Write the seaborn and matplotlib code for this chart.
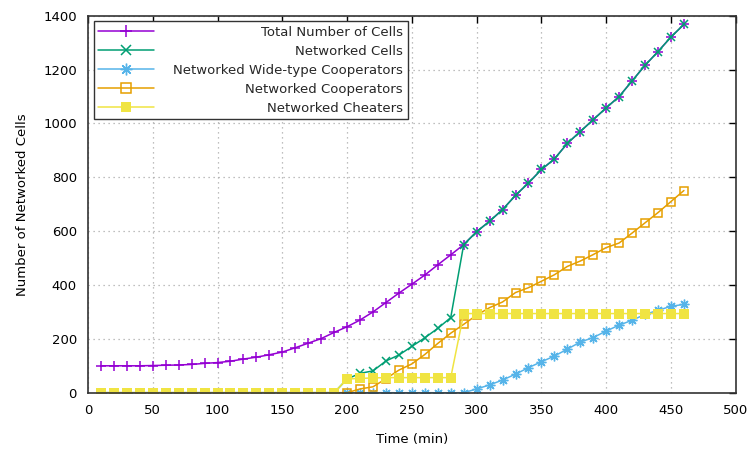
import matplotlib
matplotlib.use("Agg")
import matplotlib.pyplot as plt
import seaborn as sns
import pandas as pd

time_min = [10, 20, 30, 40, 50, 60, 70, 80, 90, 100,
            110, 120, 130, 140, 150, 160, 170, 180, 190, 200,
            210, 220, 230, 240, 250, 260, 270, 280, 290, 300,
            310, 320, 330, 340, 350, 360, 370, 380, 390, 400,
            410, 420, 430, 440, 450, 460]

total_cells = [100, 100, 100, 100, 101, 102, 103, 105, 109, 112,
               117, 125, 132, 141, 151, 167, 184, 201, 224, 245,
               270, 300, 335, 370, 403, 437, 475, 512, 550, 598,
               637, 680, 733, 779, 829, 868, 926, 970, 1014, 1058,
               1100, 1158, 1216, 1267, 1321, 1368]

networked_cells = [0, 0, 0, 0, 0, 0, 0, 0, 0, 0,
                   0, 0, 0, 0, 0, 0, 0, 0, 0, 51,
                   72, 81, 118, 140, 172, 204, 239, 279, 550, 598,
                   637, 680, 733, 779, 829, 868, 926, 970, 1014, 1058,
                   1100, 1158, 1216, 1267, 1321, 1368]

wild_coop = [0, 0, 0, 0, 0, 0, 0, 0, 0, 0,
             0, 0, 0, 0, 0, 0, 0, 0, 0, 0,
             0, 0, 0, 0, 0, 0, 0, 0, 0, 14,
             29, 47, 69, 93, 115, 136, 162, 188, 205, 229,
             251, 269, 291, 306, 321, 328]

cooperators = [0, 0, 0, 0, 0, 0, 0, 0, 0, 0,
               0, 0, 0, 0, 0, 0, 0, 0, 0, 0,
               14, 22, 52, 84, 107, 142, 183, 221, 254, 288,
               316, 337, 372, 390, 414, 438, 469, 489, 513, 539,
               556, 593, 631, 669, 710, 751]

cheaters = [0, 0, 0, 0, 0, 0, 0, 0, 0, 0,
            0, 0, 0, 0, 0, 0, 0, 0, 0, 51,
            53, 55, 56, 56, 56, 56, 56, 56, 294, 294,
            294, 294, 294, 294, 294, 294, 294, 294, 294, 294,
            294, 294, 294, 294, 294, 294]

x_ticks = [0, 50, 100, 150, 200, 250, 300, 350, 400, 450, 500]
y_ticks = [0, 200, 400, 600, 800, 1000, 1200, 1400]

series = [
    ("Total Number of Cells", total_cells, "#9400d3", "+", dict(markersize=7, markeredgewidth=1.1)),
    ("Networked Cells", networked_cells, "#009e73", "x", dict(markersize=5.5, markeredgewidth=1.1)),
    ("Networked Wide-type Cooperators", wild_coop, "#56b4e9", (8, 2, 0), dict(markersize=7, markeredgewidth=1.0)),
    ("Networked Cooperators", cooperators, "#e69f00", "s", dict(markersize=5.5, markeredgewidth=1.1, markerfacecolor="none")),
    ("Networked Cheaters", cheaters, "#f0e442", "s", dict(markersize=6.5, markeredgewidth=0)),
]

sns.set_theme(style="white")
plt.rcParams["font.family"] = ["DejaVu Sans"]
plt.rcParams["font.size"] = 9.5

fig = plt.figure(figsize=(7.5, 4.5), dpi=100)
ax = fig.add_axes([0.1173, 0.1273, 0.8637, 0.8377])

for name, vals, color, marker, kw in series:
    df = pd.DataFrame({"t": time_min, "v": vals})
    sns.lineplot(data=df, x="t", y="v", ax=ax, color=color, marker=marker,
                 linewidth=1.1, label=name, markeredgecolor=color, **kw)

ax.set_xlim(0, 500)
ax.set_ylim(0, 1400)
ax.set_xticks(x_ticks)
ax.set_yticks(y_ticks)
ax.set_xlabel("Time (min)", fontsize=9.5, color="black", labelpad=12)
ax.set_ylabel("Number of Networked Cells", fontsize=9.5, color="black", labelpad=10)
ax.tick_params(direction="in", top=True, right=True, length=5, width=1,
               colors="black", labelsize=9.5, pad=8)
ax.grid(True, linestyle=(0, (1, 3)), color="#aaaaaa", linewidth=0.9)
for s in ax.spines.values():
    s.set_color("#333333")
    s.set_linewidth(1.2)

leg = ax.legend(loc="upper left", bbox_to_anchor=(0.009, 0.985), frameon=True,
                fancybox=False, shadow=False, fontsize=9.5, handlelength=4.2,
                labelspacing=0.45, borderpad=0.35, handletextpad=1.0, borderaxespad=0,
                markerscale=1.2)
leg.get_frame().set_edgecolor("#333333")
leg.get_frame().set_linewidth(1.0)
leg.get_frame().set_alpha(1)

# right-align legend texts like gnuplot
try:
    col = leg._legend_handle_box.get_children()[0]
    rows = col.get_children()
    fig.canvas.draw()
    r = fig.canvas.get_renderer()
    widths = [row.get_bbox(r).width for row in rows]
    wmax = max(widths) + 6
    for row in rows:
        row.mode = "expand"
        row.width = wmax
except Exception:
    pass

fig.savefig("out.png", dpi=100)
